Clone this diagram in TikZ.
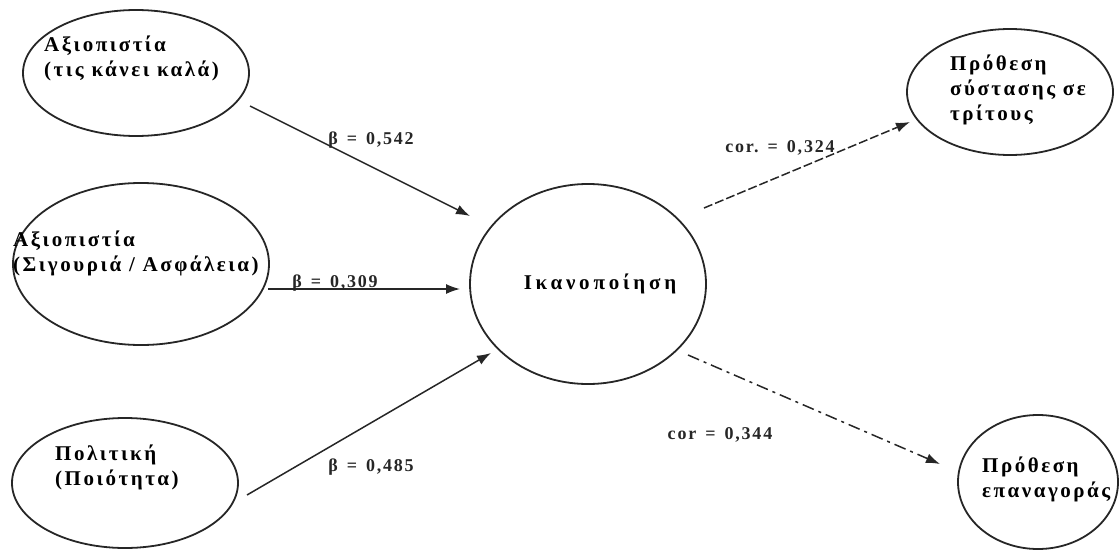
\documentclass[tikz,border=0pt]{standalone}
\usepackage{fontspec}
\setmainfont{Liberation Serif}
\newfontfamily\grk[LetterSpace=12]{Liberation Serif}
\newfontfamily\grkwide[LetterSpace=18]{Liberation Serif}
\newfontfamily\num[LetterSpace=10]{Liberation Serif}
\usetikzlibrary{shapes.geometric,arrows.meta}
\newcommand{\eqsp}{\hspace{9pt}=\hspace{9pt}}
\begin{document}
\begin{tikzpicture}[x=1pt,y=-1pt]
\useasboundingbox (0,0) rectangle (1119,551);
\tikzset{
  latent/.style={ellipse, draw=black!85, line width=1.8pt, inner sep=0pt},
  lbl/.style={font=\fontsize{21}{25}\selectfont\bfseries\grk, align=left, anchor=north west, inner sep=0pt},
  coef/.style={font=\fontsize{18}{21}\selectfont\bfseries\num, inner sep=1pt, text=black!85},
  effect/.style={line width=1.5pt, draw=black!85, -{Latex[length=14pt,width=10pt]}},
}
% constructs
\node[latent, minimum width=226pt, minimum height=126pt] (e1) at (136,73) {};
\node[latent, minimum width=256pt, minimum height=162pt] (e2) at (141,264) {};
\node[latent, minimum width=226pt, minimum height=130pt] (e3) at (125,483) {};
\node[latent, minimum width=236pt, minimum height=200pt] (ec) at (588,284) {};
\node[latent, minimum width=206pt, minimum height=126pt] (e4) at (1010,92) {};
\node[latent, minimum width=160pt, minimum height=134pt] (e5) at (1038,482) {};

% construct names
\node[lbl] (t1) at (44,36) {Αξιοπιστία\\(τις κάνει καλά)};
\node[lbl] (t2) at (13,231) {Αξιοπιστία\\(Σιγουριά / Ασφάλεια)};
\node[lbl] (t3) at (55,445) {Πολιτική\\(Ποιότητα)};
\node[lbl, anchor=center, font=\fontsize{21}{25}\selectfont\bfseries\grkwide] (tc) at (600,284) {Ικανοποίηση};
\node[lbl] (t4) at (950,55) {Πρόθεση\\σύστασης σε\\τρίτους};
\node[lbl] (t5) at (982,457) {Πρόθεση\\επαναγοράς};

% path end points
\coordinate (a1s) at (250,106); \coordinate (a1e) at (470,216);
\coordinate (a2s) at (268,289); \coordinate (a2e) at (460,289);
\coordinate (a3s) at (247,495); \coordinate (a3e) at (491,353);
\coordinate (a4s) at (704,208); \coordinate (a4e) at (910,122);
\coordinate (a5s) at (688,355); \coordinate (a5e) at (940,464);

\draw[effect] (a1s) -- (a1e);
\draw[effect] (a2s) -- (a2e);
\draw[effect] (a3s) -- (a3e);
\draw[effect, dash pattern=on 9pt off 3pt] (a4s) -- (a4e);
\draw[effect, dash pattern=on 12pt off 5pt on 3pt off 5pt] (a5s) -- (a5e);

% coefficients
\node[coef] (c1) at (371,140) {β\eqsp0,542};
\node[coef] (c2) at (335,283) {β\eqsp0,309};
\node[coef] (c3) at (371,467) {β\eqsp0,485};
\node[coef] (c4) at (780,148) {cor.\eqsp0,324};
\node[coef] (c5) at (720,435) {cor\eqsp0,344};
\end{tikzpicture}
\end{document}
